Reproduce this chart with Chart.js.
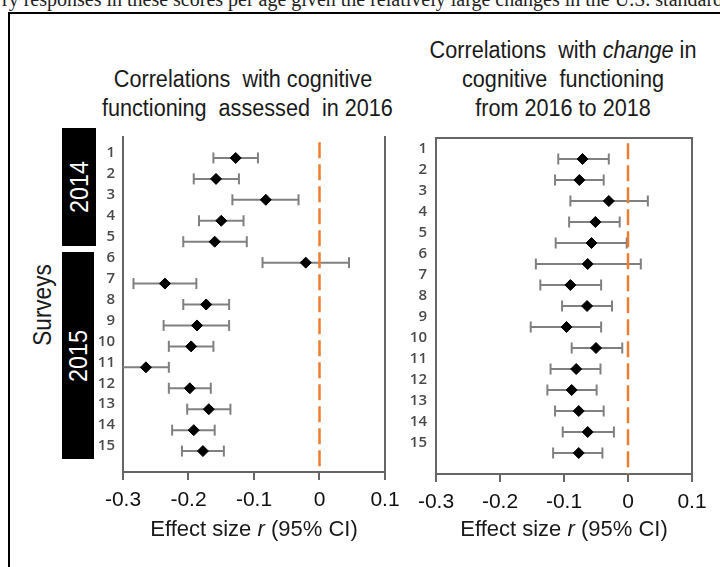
<!DOCTYPE html>
<html>
<head>
<meta charset="utf-8">
<script src="https://cdn.jsdelivr.net/npm/chart.js@4.4.1/dist/chart.umd.min.js"></script>
<style>
  html, body { margin: 0; padding: 0; }
  body { width: 720px; height: 567px; overflow: hidden; background: #fff; position: relative;
         font-family: "Liberation Sans", Arial, sans-serif; color: #1a1a1a; }
  .abs { position: absolute; }
  .frame { left: 8px; top: 12px; width: 800px; height: 700px; border: 2px solid #000; }
  .caption { left: 2px; top: -12px; white-space: nowrap; font-family: "Liberation Serif", serif; font-size: 20px; color: #222; }
  .title { font-size: 23px; line-height: 29px; text-align: center; white-space: nowrap; transform: scaleX(0.94); }
  .xlab { font-size: 22px; white-space: nowrap; transform: translateX(-50%); }
  .year { background: #000; color: #fff; }
  .year span, .surveys span { position: absolute; left: 50%; top: 50%; white-space: nowrap;
         transform: translate(-50%, -50%) rotate(-90deg) scaleX(0.9); }
  canvas { position: absolute; }
</style>
</head>
<body>
<div class="abs caption">ry responses in these scores per age given the relatively large changes in the U.S. standardized</div>
<div class="abs frame"></div>

<div class="abs title" style="left:93px; top:65px; width:300px;">Correlations&nbsp; with cognitive<br>functioning&nbsp; assessed&nbsp; in 2016</div>
<div class="abs title" style="left:413px; top:36px; width:300px;">Correlations&nbsp; with <i>change</i> in<br>cognitive&nbsp; functioning<br>from 2016 to 2018</div>

<div class="abs surveys" style="left:22px; top:260px; width:40px; height:90px; font-size:25px;"><span>Surveys</span></div>
<div class="abs year" style="left:62px; top:128px; width:34px; height:118px; font-size:26px;"><span>2014</span></div>
<div class="abs year" style="left:62px; top:252px; width:32px; height:207px; font-size:26px;"><span>2015</span></div>

<canvas id="left" width="345" height="400" style="left:70px; top:120px;"></canvas>
<canvas id="right" width="335" height="400" style="left:385px; top:120px;"></canvas>

<div class="abs xlab" style="left:254px; top:516px;">Effect size <i>r</i> (95% CI)</div>
<div class="abs xlab" style="left:564px; top:516px;">Effect size <i>r</i> (95% CI)</div>

<script>
// survey numbers (rows)
const surveys = [1, 2, 3, 4, 5, 6, 7, 8, 9, 10, 11, 12, 13, 14, 15];
const xTicks = [-0.3, -0.2, -0.1, 0, 0.1];
const xTickLabels = ['-0.3', '-0.2', '-0.1', '0', '0.1'];

// correlations with cognitive functioning assessed in 2016
const levelR = [-0.128, -0.158, -0.082, -0.150, -0.160, -0.021, -0.236, -0.173, -0.187, -0.196, -0.265, -0.198, -0.169, -0.192, -0.178];
const levelLo = [-0.162, -0.192, -0.133, -0.184, -0.208, -0.087, -0.284, -0.208, -0.238, -0.230, -0.310, -0.230, -0.202, -0.225, -0.210];
const levelHi = [-0.094, -0.123, -0.032, -0.116, -0.111, 0.045, -0.188, -0.138, -0.138, -0.162, -0.230, -0.166, -0.136, -0.160, -0.146];

// correlations with change in cognitive functioning 2016 -> 2018
const changeR = [-0.071, -0.076, -0.030, -0.051, -0.057, -0.063, -0.090, -0.064, -0.096, -0.050, -0.081, -0.088, -0.077, -0.063, -0.077];
const changeLo = [-0.109, -0.114, -0.090, -0.092, -0.113, -0.144, -0.137, -0.103, -0.152, -0.088, -0.121, -0.126, -0.114, -0.102, -0.117];
const changeHi = [-0.030, -0.038, 0.031, -0.013, -0.002, 0.020, -0.042, -0.025, -0.042, -0.009, -0.043, -0.049, -0.038, -0.022, -0.040];

const axisGray = '#666666';

function forestChart(id, est, lo, hi, cfg) {
  const datasets = [];
  // diamonds on top
  datasets.push({
    data: est.map((v, i) => ({ x: v, y: surveys[i] })),
    pointStyle: 'rectRot',
    pointRadius: 5.5,
    pointBackgroundColor: '#000',
    pointBorderColor: '#000',
    pointBorderWidth: 1,
    showLine: false,
    order: 0
  });
  // zero reference line
  datasets.push({
    data: [{ x: 0, y: 0.25 }, { x: 0, y: 16 }],
    showLine: true,
    borderColor: '#ED7D31',
    borderWidth: 2.5,
    borderDash: [16, 6],
    pointRadius: 0,
    order: 1
  });
  // confidence intervals
  surveys.forEach((s, i) => {
    datasets.push({
      data: [{ x: lo[i], y: s }, { x: hi[i], y: s }],
      showLine: true,
      borderColor: '#808080',
      borderWidth: 2,
      pointStyle: 'line',
      pointRotation: 90,
      pointRadius: 5.5,
      pointBorderColor: '#808080',
      pointBorderWidth: 2,
      order: 2
    });
  });

  const scales = {
    x: {
      type: 'linear', position: 'bottom', min: -0.3, max: 0.1,
      afterBuildTicks: (s) => { s.ticks = xTicks.map(v => ({ value: v })); },
      ticks: {
        callback: (v, i) => xTickLabels[i],
        font: { family: '"Liberation Sans", Arial, sans-serif', size: 21 },
        color: '#111',
        padding: 8,
        maxRotation: 0
      },
      grid: { drawOnChartArea: false, tickLength: 8, color: axisGray, lineWidth: 2 },
      border: { display: true, color: axisGray, width: 2 },
      afterFit: (s) => { s.height = cfg.xHeight; }
    },
    y: {
      type: 'linear', position: 'left', min: 0, max: 16, reverse: true,
      afterBuildTicks: (s) => { s.ticks = surveys.map(v => ({ value: v })); },
      ticks: {
        callback: (v, i) => String(surveys[i]),
        font: { family: '"Open Sans", sans-serif', size: 15, weight: '600' },
        color: '#4a4a4a',
        padding: cfg.labelPad,
        labelOffset: cfg.labelOffset
      },
      grid: { display: false, drawTicks: false },
      border: { display: true, color: axisGray, width: 2 },
      afterFit: (s) => { s.width = cfg.yWidth; }
    },
    yR: {
      type: 'linear', position: 'right', min: 0, max: 16,
      ticks: { display: false }, grid: { display: false, drawTicks: false },
      border: { display: true, color: axisGray, width: 2 },
      afterFit: (s) => { s.width = 0; }
    }
  };
  if (cfg.topBorder) {
    scales.xT = {
      type: 'linear', position: 'top', min: -0.3, max: 0.1,
      ticks: { display: false }, grid: { display: false, drawTicks: false },
      border: { display: true, color: axisGray, width: 2 },
      afterFit: (s) => { s.height = 0; }
    };
  }

  return new Chart(document.getElementById(id), {
    type: 'scatter',
    data: { datasets },
    options: {
      responsive: false,
      animation: false,
      devicePixelRatio: 1,
      layout: { padding: cfg.padding },
      plugins: { legend: { display: false }, tooltip: { enabled: false } },
      scales
    }
  });
}

forestChart('left', levelR, levelLo, levelHi, {
  yWidth: 53, xHeight: 48, labelOffset: -5, labelPad: 8, topBorder: false,
  padding: { left: 0, top: 10, right: 30, bottom: 0 }
});
forestChart('right', changeR, changeLo, changeHi, {
  yWidth: 51, xHeight: 46, labelOffset: -10, labelPad: 9, topBorder: true,
  padding: { left: 0, top: 10, right: 28, bottom: 0 }
});
</script>
</body>
</html>
